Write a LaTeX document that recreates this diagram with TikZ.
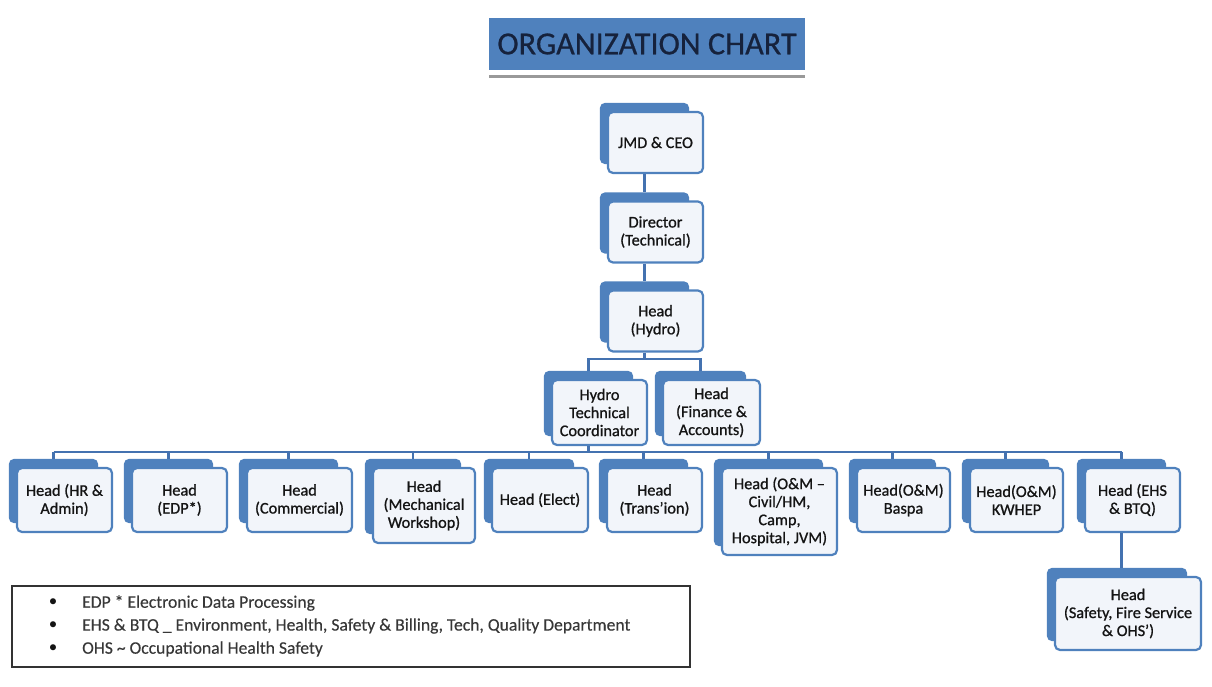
\documentclass[tikz,border=0pt]{standalone}
\usepackage{fontspec}
\setmainfont{Carlito}
\newfontfamily\boxfont[FakeBold=0.9]{Carlito}
\newfontfamily\titlefont[FakeBold=0.6]{Carlito}
\newfontfamily\legfont[FakeBold=0.3]{Carlito}
\usetikzlibrary{calc}
\pgfdeclarelayer{background}
\pgfsetlayers{background,main}
\definecolor{obl}{RGB}{79,129,189}
\definecolor{lnk}{RGB}{68,114,176}
\definecolor{frontfill}{RGB}{242,245,250}
\definecolor{navy}{RGB}{22,34,60}
\definecolor{txt}{RGB}{20,20,20}
\tikzset{
  frontbox/.style={draw=obl, line width=2.2pt, rounded corners=5pt, fill=frontfill,
    align=center, font=\boxfont\fontsize{16.3}{18}\selectfont, inner sep=2pt, text=txt},
  link/.style={draw=lnk, line width=2.2pt},
  legtext/.style={anchor=west, font=\legfont\fontsize{17.6}{20}\selectfont, text=txt!85, inner sep=0pt},
  legbullet/.style={font=\fontsize{17}{20}\selectfont, text=txt, inner sep=0pt},
}
\newcommand{\orgbox}[6]{%
  \node[frontbox, minimum width=#4pt, minimum height=#5pt] (#1) at (#2,#3) {#6};
  \begin{pgfonlayer}{background}
    \fill[obl, rounded corners=5pt] ([shift={(-7pt,8pt)}]#1.north west) rectangle ([shift={(-15pt,10pt)}]#1.south east);
  \end{pgfonlayer}
}
\begin{document}
\begin{tikzpicture}[x=1pt,y=-1pt]
\useasboundingbox (0,0) rectangle (1212,687);

% title
\node[fill=obl, minimum width=316pt, minimum height=52pt, inner sep=0pt,
      font=\titlefont\fontsize{32.2}{36}\selectfont, text=navy] (title) at (647,44) {ORGANIZATION CHART};
\fill[black!40] (489,75) rectangle (805,78);

% boxes
\orgbox{ceo}{655.5}{142.5}{95}{61}{JMD \& CEO}
\orgbox{dir}{655.5}{232}{95}{61}{Director\\(Technical)}
\orgbox{hyd}{655.5}{321}{95}{61}{Head\\(Hydro)}
\orgbox{htc}{599.5}{412.5}{95}{65}{Hydro\\Technical\\Coordinator}
\orgbox{fin}{711.5}{412.5}{97}{65}{Head\\(Finance \&\\Accounts)}

\orgbox{hr}{64.5}{500}{95}{64}{Head (HR \&\\Admin)}
\orgbox{edp}{179.5}{500}{95}{64}{Head\\(EDP*)}
\orgbox{com}{299.5}{500}{105}{64}{Head\\(Commercial)}
\orgbox{mech}{424}{505.5}{102}{75}{Head\\(Mechanical\\Workshop)}
\orgbox{elect}{540}{500}{96}{64}{Head (Elect)}
\orgbox{trans}{654.5}{500}{95}{64}{Head\\(Trans’ion)}
\orgbox{om}{779.5}{511.5}{115}{87}{Head (O\&M –\\Civil/HM,\\Camp,\\Hospital, JVM)}
\orgbox{baspa}{903.5}{500}{93}{64}{Head(O\&M)\\Baspa}
\orgbox{kwhep}{1016.5}{500}{93}{64}{Head(O\&M)\\KWHEP}
\orgbox{ehs}{1132.5}{500}{95}{64}{Head (EHS\\\& BTQ)}
\orgbox{saf}{1128}{613.5}{146}{73}{Head\\(Safety, Fire Service\\\& OHS’)}

% connectors
\coordinate (bus1) at (0,359);
\coordinate (bus2) at (0,452);
\draw[link] ([xshift=-11pt]ceo.south) -- ([xshift=-11pt,yshift=8pt]dir.north);
\draw[link] ([xshift=-11pt]dir.south) -- ([xshift=-11pt,yshift=8pt]hyd.north);
\draw[link] ([xshift=-11pt]hyd.south) -- ([xshift=-11pt]hyd.south |- bus1);
\draw[link] ([xshift=-11pt,yshift=8pt]htc.north) -- ([xshift=-11pt]htc.north |- bus1)
   -- ([xshift=-11pt]fin.north |- bus1) -- ([xshift=-11pt,yshift=8pt]fin.north);
\draw[link] ([xshift=-11pt]htc.south) -- ([xshift=-11pt]htc.south |- bus2);
\draw[link] ([xshift=-11pt]hr.north |- bus2) -- ([xshift=-11pt]ehs.north |- bus2);
\foreach \n in {hr,edp,com,mech,elect,trans,om,baspa,kwhep,ehs}
  \draw[link] ([xshift=-11pt]\n.north |- bus2) -- ([xshift=-11pt,yshift=8pt]\n.north);
\draw[link] ([xshift=-11pt]ehs.south) -- ([xshift=-11pt,yshift=8pt]ehs.south |- saf.north);

% legend
\node[draw=black!80, line width=1.3pt, minimum width=678pt, minimum height=81pt, inner sep=0pt] (legend) at (351,626.5) {};
\node[legbullet] (b1) at (53,603) {•};
\node[legbullet] (b2) at (53,626) {•};
\node[legbullet] (b3) at (53,649) {•};
\node[legtext] (l1) at (82,603) {EDP * Electronic Data Processing};
\node[legtext] (l2) at (82,626) {EHS \& BTQ \_ Environment, Health, Safety \& Billing, Tech, Quality Department};
\node[legtext] (l3) at (82,649) {OHS \textasciitilde\ Occupational Health Safety};
\end{tikzpicture}
\end{document}
